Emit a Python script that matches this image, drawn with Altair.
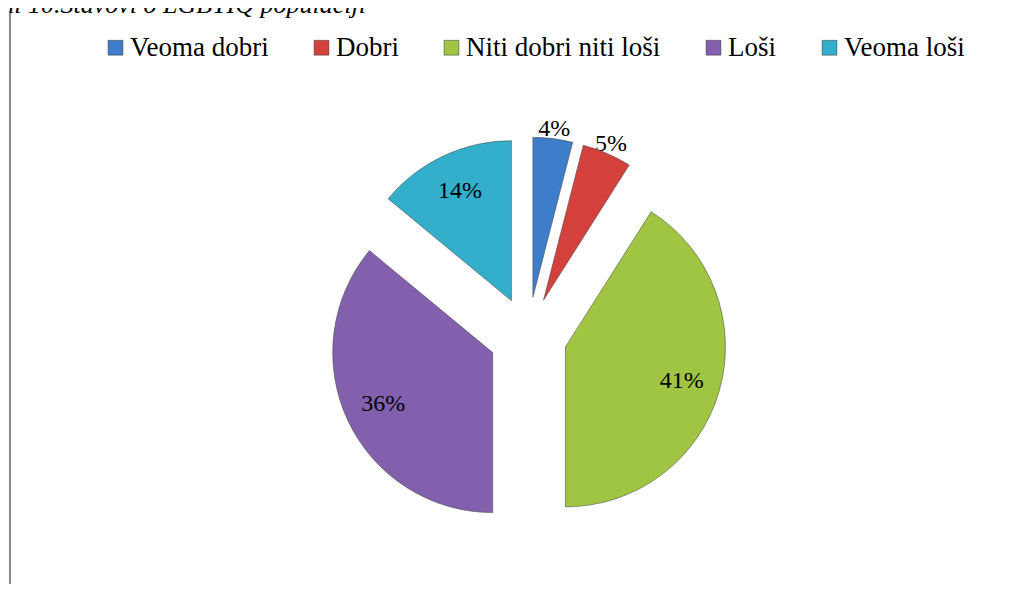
import altair as alt
import pandas as pd

categories = ["Veoma dobri", "Dobri", "Niti dobri niti loši", "Loši", "Veoma loši"]
values = [4, 5, 41, 36, 14]
colors = ["#3D7DC9", "#D4413D", "#9FC543", "#8260AE", "#33AECB"]
title_text = "Grafikoni 10.Stavovi o  LGBTIQ populaciji"

FONT = "'Liberation Serif', 'Times New Roman', serif"

df = pd.DataFrame({"cat": categories, "value": values, "order": list(range(len(values)))})

CX, CY, R, EXPLODE = 520, 328, 160, 39

base = alt.Chart(df).transform_window(
    cum="sum(value)", sort=[alt.SortField("order")], frame=[None, 0]
).transform_calculate(
    t1="datum.cum / 100 * 2 * PI",
    t0="(datum.cum - datum.value) / 100 * 2 * PI",
).transform_calculate(
    mid="(datum.t0 + datum.t1) / 2",
).transform_calculate(
    cx=f"{CX} + {EXPLODE} * sin(datum.mid)",
    cy=f"{CY} - {EXPLODE} * cos(datum.mid)",
    lr="datum.value < 10 ? 209 : 160",
    label="datum.value + '%'",
).transform_calculate(
    lx=f"{CX} + datum.lr * sin(datum.mid)",
    ly=f"{CY} - datum.lr * cos(datum.mid)",
)

color = alt.Color(
    "cat:N",
    scale=alt.Scale(domain=categories, range=colors),
    sort=categories,
    legend=alt.Legend(
        title=None,
        orient="none",
        legendX=94,
        legendY=26,
        direction="horizontal",
        symbolType="square",
        symbolSize=220,
        symbolStrokeWidth=0.5,
        symbolStrokeColor="#333",
        labelFont=FONT,
        labelFontSize=27,
        labelColor="#000",
        labelOffset=1,
        columnPadding=39,
        labelLimit=400,
    ),
)

arcs = base.mark_arc(outerRadius=R, stroke="#4a4a4a", strokeWidth=0.8, strokeOpacity=0.7).encode(
    theta=alt.Theta("t0:Q", scale=None, stack=None),
    theta2=alt.Theta2("t1:Q"),
    x=alt.X("cx:Q", scale=None),
    y=alt.Y("cy:Q", scale=None),
    color=color,
    order=alt.Order("order:Q"),
)

text_enc = dict(
    x=alt.X("lx:Q", scale=None),
    y=alt.Y("ly:Q", scale=None),
    text=alt.Text("label:N"),
)

small_labels = base.transform_filter("datum.value < 10").mark_text(
    font=FONT, fontSize=24, color="#000", align="center", baseline="middle"
).encode(**text_enc)

big_labels = base.transform_filter("datum.value >= 10").mark_text(
    font=FONT, fontSize=24, color="#000", align="center", baseline="middle"
).encode(**text_enc)

title_df = pd.DataFrame({"t": [title_text]})
title = alt.Chart(title_df).mark_text(
    font=FONT, fontSize=26, fontStyle="italic", color="#000",
    align="right", baseline="alphabetic"
).encode(x=alt.value(358), y=alt.value(5), text="t:N")

border = alt.Chart(title_df).mark_rule(color="#8c8c8c", strokeWidth=2).encode(
    x=alt.value(2), y=alt.value(4), y2=alt.value(600)
)

chart = alt.layer(border, title, small_labels, arcs, big_labels).properties(
    width=1017, height=576, autosize="none", padding=0
).configure_view(stroke=None)

chart.save("out.html", embed_options={"renderer": "svg", "actions": False})
